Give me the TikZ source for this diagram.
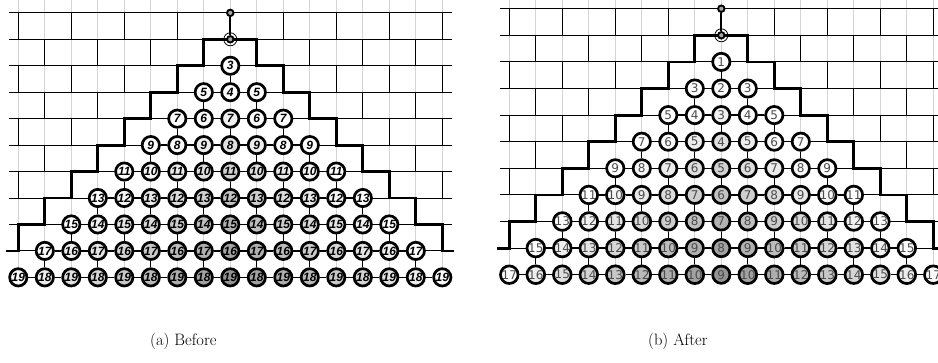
\documentclass[tikz,border=0pt]{standalone}
\usepackage{fontspec}
\newfontfamily\lfont{Liberation Sans}
\newfontfamily\rfont{DejaVu Sans}
\tikzset{
 gridgray/.style={draw=black!17, line width=1pt},
 gridline/.style={draw=black, line width=0.9pt},
 stair/.style={draw=black, line width=2.8pt, line join=miter},
 conn/.style={draw=black, line width=1.3pt},
 dnode/.style={circle, draw=black, line width=2.7pt, minimum size=17.3pt, inner sep=0pt},
 lnum/.style={dnode, font=\lfont\bfseries\itshape\fontsize{12}{12}\selectfont},
 rnum/.style={dnode, font=\rfont\fontsize{12}{12}\selectfont, text=black!70},
 srcnode/.style={circle, draw=black, fill=black!35, line width=1.9pt, minimum size=6.5pt, inner sep=0pt},
 ringnode/.style={circle, draw=black, line width=0.8pt, minimum size=13pt, inner sep=0pt},
 srclink/.style={draw=black, line width=2pt},
 captext/.style={font=\fontsize{16.5}{16.5}\selectfont, inner sep=0pt}
}
% uses \cx, \yz, \dy, \dx, \P, \mode
\newcommand\drawpanel{%
  \foreach \o in {-8,...,8} {
    \draw[gridgray] (\cx+\o*\dx, \yz-1.5*\dy) -- (\cx+\o*\dx, \yz+9*\dy);
  }
  \foreach \k in {-1,...,8} {
    \draw[gridline] (\cx-8.35*\dx, \yz+\k*\dy) -- (\cx+8.35*\dx, \yz+\k*\dy);
  }
  \foreach \k in {-1,...,7} {
    \foreach \o in {-8,...,8} {
      \pgfmathtruncatemacro\ok{and(mod(abs(\o-\k-1),2)==0, abs(\o)>=\k+2)}
      \ifnum\ok=1
        \draw[gridline] (\cx+\o*\dx, \yz+\k*\dy) -- (\cx+\o*\dx, \yz+\k*\dy+\dy);
      \fi
    }
  }
  \draw[stair] (\cx-8.45*\dx, \yz+8*\dy)
    foreach \k in {8,7,...,1} { -- (\cx-\k*\dx, \yz+\k*\dy) -- (\cx-\k*\dx, \yz+\k*\dy-\dy) }
    foreach \k in {1,...,8} { -- (\cx+\k*\dx, \yz+\k*\dy-\dy) -- (\cx+\k*\dx, \yz+\k*\dy) }
    -- (\cx+8.45*\dx, \yz+8*\dy);
  \foreach \r in {1,...,9} {
    \pgfmathtruncatemacro\jhi{\r-1}
    \pgfmathtruncatemacro\jlo{1-\r}
    \foreach \j in {\jlo,...,\jhi} {
      \pgfmathtruncatemacro\i{\j+8}
      \ifnum\mode=0
        \pgfmathtruncatemacro\lab{mod(abs(\r+\j),2)==1 ? 2*\r+1 : 2*\r}
      \else
        \pgfmathtruncatemacro\lab{\r+abs(\j)}
      \fi
      \pgfmathtruncatemacro\sh{max(0,6*(\r-2)-5*abs(\j))}
      \ifnum\mode=0
        \node[lnum, fill=black!\sh] (\P\r-\i) at (\cx+\j*\dx, \yz+\r*\dy) {\lab};
      \else
        \node[rnum, fill=black!\sh] (\P\r-\i) at (\cx+\j*\dx, \yz+\r*\dy) {\lab};
      \fi
    }
  }
  \foreach \r in {2,...,9} {
    \pgfmathtruncatemacro\jhi{\r-2}
    \pgfmathtruncatemacro\jlo{1-\r}
    \foreach \j in {\jlo,...,\jhi} {
      \pgfmathtruncatemacro\i{\j+8}
      \pgfmathtruncatemacro\ii{\j+9}
      \draw[conn] (\P\r-\i) -- (\P\r-\ii);
    }
  }
  \foreach \r in {1,...,8} {
    \pgfmathtruncatemacro\jhi{\r-1}
    \pgfmathtruncatemacro\jlo{1-\r}
    \pgfmathtruncatemacro\rr{\r+1}
    \foreach \j in {\jlo,...,\jhi} {
      \pgfmathtruncatemacro\ok{mod(abs(\j-\r-1),2)==0}
      \pgfmathtruncatemacro\i{\j+8}
      \ifnum\ok=1
        \draw[conn] (\P\r-\i) -- (\P\rr-\i);
      \fi
    }
  }
  \node[ringnode] (\P ring) at (\cx, \yz) {};
  \node[srcnode] (\P root) at (\cx, \yz) {};
  \node[srcnode] (\P top) at (\cx, \yz-\dy) {};
  \draw[srclink] (\P top) -- (\P root);
}
\begin{document}
\begin{tikzpicture}[x=1pt, y=-1pt]
\useasboundingbox (0,0) rectangle (938,362);
\fill[white] (0,0) rectangle (938,362);
\def\dx{26.5}
\def\cx{230.3}\def\yz{39.3}\def\dy{26.45}\def\P{L}\def\mode{0}
\drawpanel
\def\cx{721.3}\def\yz{35.3}\def\dy{26.6}\def\P{R}\def\mode{1}
\drawpanel
\node[captext, anchor=west] (capa) at (150,341) {(a) Before};
\node[captext, anchor=west] (capb) at (648,341) {(b) After};
\end{tikzpicture}
\end{document}
